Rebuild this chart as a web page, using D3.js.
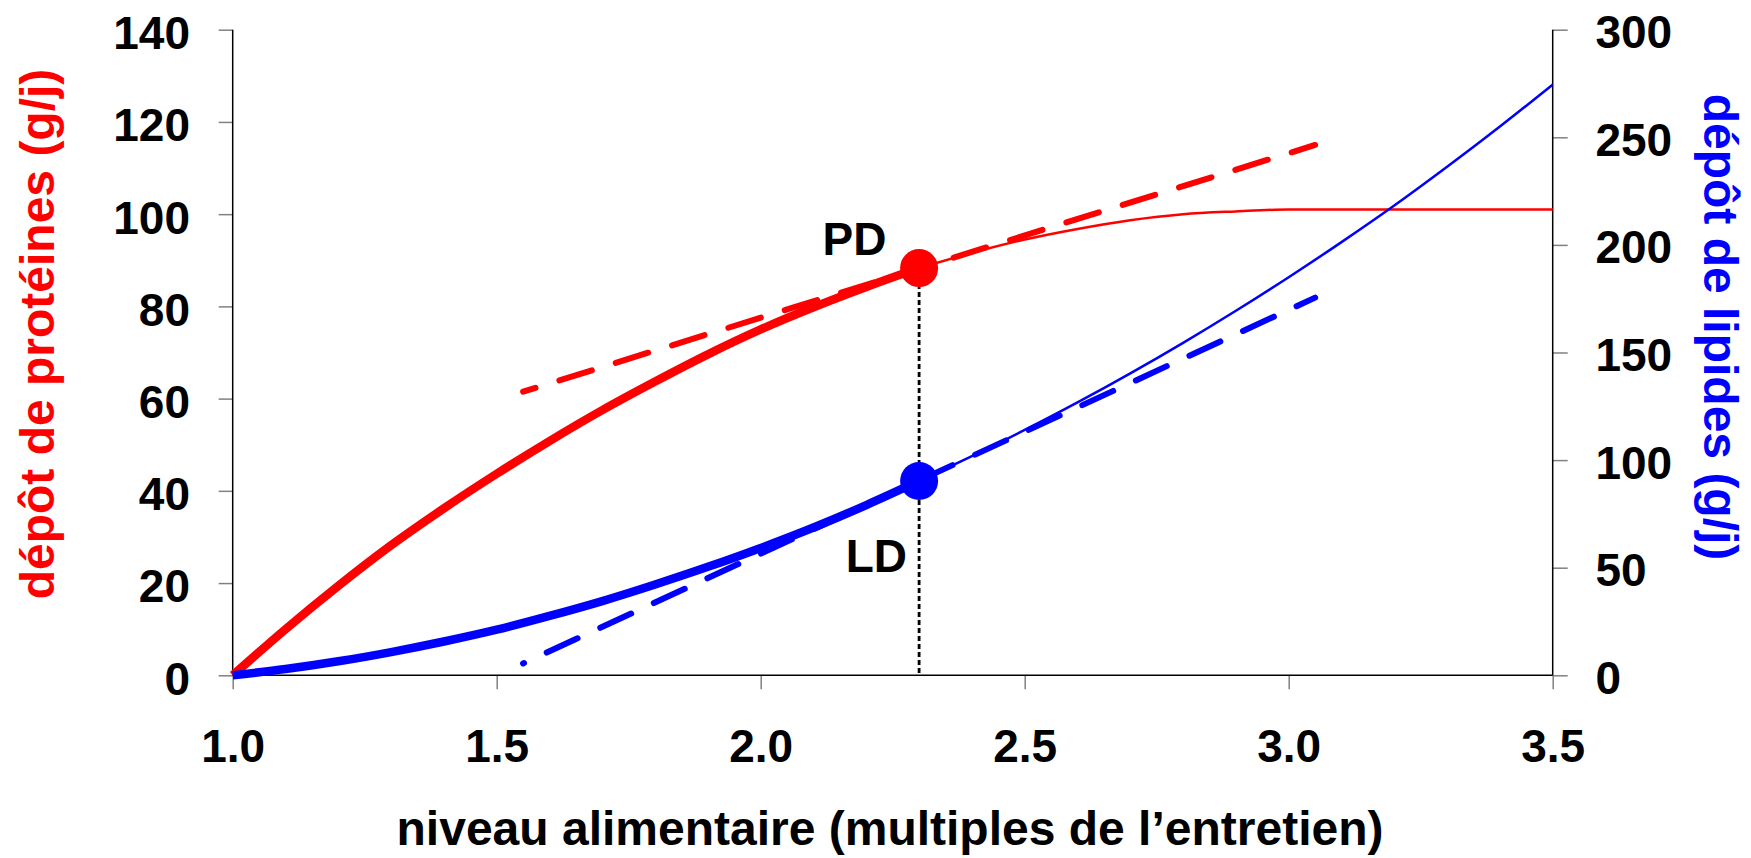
<!DOCTYPE html>
<html>
<head>
<meta charset="utf-8">
<script src="https://cdn.jsdelivr.net/npm/d3@7"></script>
<style>
  html, body { margin: 0; padding: 0; background: #fff; }
  svg { display: block; }
  text { font-family: "Liberation Sans", Arial, sans-serif; font-weight: bold; }
</style>
</head>
<body>
<svg id="chart" width="1751" height="858"></svg>
<script>
// ---------- data ----------
const xTicks = [1.0, 1.5, 2.0, 2.5, 3.0, 3.5];
const leftTicks = [0, 20, 40, 60, 80, 100, 120, 140];
const rightTicks = [0, 50, 100, 150, 200, 250, 300];

// feeding level (multiples of maintenance), observed segment (thick)
const levelsThick = [1.0, 1.1, 1.2, 1.3, 1.4, 1.5, 1.6, 1.7, 1.8, 1.9, 2.0, 2.1, 2.2, 2.3];
const proteinThick = [0, 10, 19.4, 28.2, 36.2, 43.7, 50.8, 57.5, 63.7, 69.6, 75, 79.8, 84.2, 88.3];
const lipidThick   = [0, 2.9, 6.5, 10.8, 15.7, 21.2, 27.6, 34.5, 42.2, 50.4, 59.2, 68.7, 79.1, 90.3];

// extrapolated segment (thin)
const levelsThin = [2.3, 2.4, 2.5, 2.6, 2.7, 2.8, 2.9, 3.0, 3.1, 3.2, 3.3, 3.4, 3.5];
const proteinThin = [88.3, 91.6, 94.5, 96.8, 98.7, 100, 100.6, 101, 101, 101, 101, 101, 101];
const lipidThin   = [90.3, 101.8, 114, 126.8, 140.3, 154.5, 169.4, 185, 201.3, 218.3, 236.3, 255, 274.5];

// tangent lines at the operating point
const tangentLevels = [1.55, 3.05];
const proteinTangent = [61.5, 115.0];
const lipidTangent = [5.5, 175.5];

// operating point
const pointLevel = 2.3;
const pdValue = 88.3;
const ldValue = 90.3;

const xTitle = "niveau alimentaire (multiples de l\u2019entretien)";
const leftTitle = "dépôt de protéines (g/j)";
const rightTitle = "dépôt de lipides (g/j)";

// ---------- layout ----------
const RED = "#FF0000", BLUE = "#0000FF";
const plotLeft = 232.7, plotRight = 1552.7, plotTop = 29.7, plotBottom = 675.3;

const svg = d3.select("#chart");
const x = d3.scaleLinear().domain([1, 3.5]).range([plotLeft, plotRight]);
const yL = d3.scaleLinear().domain([0, 140]).range([plotBottom, plotTop]);
const yR = d3.scaleLinear().domain([0, 300]).range([plotBottom, plotTop]);

// ---------- axes ----------
const tickFont = 46;

const gL = svg.append("g").attr("transform", `translate(${plotLeft},0)`)
  .call(d3.axisLeft(yL).tickValues(leftTicks).tickSizeInner(14).tickSizeOuter(0).tickPadding(28.7).tickFormat(d3.format("d")));
gL.select(".domain").remove();
gL.selectAll(".tick line").attr("stroke", "#808080").attr("stroke-width", 1.5);
gL.selectAll(".tick text").attr("font-size", tickFont).attr("fill", "#000").attr("dy", "0.41em");

const gR = svg.append("g").attr("transform", `translate(${plotRight},0)`)
  .call(d3.axisRight(yR).tickValues(rightTicks).tickSizeInner(15).tickSizeOuter(0).tickPadding(27.7).tickFormat(d3.format("d")));
gR.select(".domain").remove();
gR.selectAll(".tick line").attr("stroke", "#808080").attr("stroke-width", 1.5);
gR.selectAll(".tick text").attr("font-size", tickFont).attr("fill", "#000").attr("dy", "0.39em");

const gB = svg.append("g").attr("transform", `translate(0,${plotBottom})`)
  .call(d3.axisBottom(x).tickValues(xTicks).tickSizeInner(14).tickSizeOuter(0).tickPadding(40).tickFormat(d3.format(".1f")));
gB.select(".domain").remove();
gB.selectAll(".tick line").attr("stroke", "#808080").attr("stroke-width", 1.5);
gB.selectAll(".tick text").attr("font-size", tickFont).attr("fill", "#000").attr("dy", "0.71em");

// axis lines
svg.append("line").attr("x1", plotLeft).attr("x2", plotLeft).attr("y1", plotTop).attr("y2", plotBottom)
  .attr("stroke", "#000").attr("stroke-width", 1.5);
svg.append("line").attr("x1", plotRight).attr("x2", plotRight).attr("y1", plotTop).attr("y2", plotBottom)
  .attr("stroke", "#000").attr("stroke-width", 1.5);
svg.append("line").attr("x1", plotLeft).attr("x2", plotRight).attr("y1", plotBottom).attr("y2", plotBottom)
  .attr("stroke", "#000").attr("stroke-width", 1.5);

// ---------- axis titles ----------
svg.append("text")
  .attr("transform", "translate(42,334) rotate(-90)")
  .attr("text-anchor", "middle").attr("dy", "0.26em")
  .attr("font-size", 48).attr("fill", RED).text(leftTitle);

svg.append("text")
  .attr("transform", "translate(1716,327) rotate(90)")
  .attr("text-anchor", "middle").attr("dy", "0.26em")
  .attr("font-size", 48).attr("fill", BLUE).text(rightTitle);

svg.append("text")
  .attr("x", 890).attr("y", 845)
  .attr("text-anchor", "middle")
  .attr("font-size", 48).attr("fill", "#000").text(xTitle);

// ---------- vertical dotted line ----------
svg.append("line")
  .attr("x1", x(pointLevel)).attr("x2", x(pointLevel))
  .attr("y1", yL(pdValue)).attr("y2", plotBottom)
  .attr("stroke", "#000").attr("stroke-width", 2.8).attr("stroke-dasharray", "5,3");

// ---------- curves ----------
const lineL = d3.line().x(d => x(d[0])).y(d => yL(d[1])).curve(d3.curveMonotoneX);
const lineR = d3.line().x(d => x(d[0])).y(d => yR(d[1])).curve(d3.curveMonotoneX);

const zip = (a, b) => a.map((v, i) => [v, b[i]]);

// thin extrapolations
svg.append("path").attr("d", lineL(zip(levelsThin, proteinThin)))
  .attr("fill", "none").attr("stroke", RED).attr("stroke-width", 2.5);
svg.append("path").attr("d", lineR(zip(levelsThin, lipidThin)))
  .attr("fill", "none").attr("stroke", BLUE).attr("stroke-width", 2.5);

// thick observed segments
svg.append("path").attr("d", lineL(zip(levelsThick, proteinThick)))
  .attr("fill", "none").attr("stroke", RED).attr("stroke-width", 8.5).attr("stroke-linejoin", "round");
svg.append("path").attr("d", lineR(zip(levelsThick, lipidThick)))
  .attr("fill", "none").attr("stroke", BLUE).attr("stroke-width", 8.5).attr("stroke-linejoin", "round");

// tangents (dashed)
svg.append("path").attr("d", lineL(zip(tangentLevels, proteinTangent)))
  .attr("fill", "none").attr("stroke", RED).attr("stroke-width", 6)
  .attr("stroke-linecap", "round").attr("stroke-dasharray", "34,25").attr("stroke-dashoffset", 21);
svg.append("path").attr("d", lineR(zip(tangentLevels, lipidTangent)))
  .attr("fill", "none").attr("stroke", BLUE).attr("stroke-width", 6)
  .attr("stroke-linecap", "round").attr("stroke-dasharray", "34,25").attr("stroke-dashoffset", 33);

// ---------- points ----------
svg.append("circle").attr("cx", x(pointLevel)).attr("cy", yL(pdValue)).attr("r", 19).attr("fill", RED);
svg.append("circle").attr("cx", x(pointLevel)).attr("cy", yR(ldValue)).attr("r", 19).attr("fill", BLUE);

svg.append("text")
  .attr("x", x(pointLevel) - 32.6).attr("y", yL(pdValue) - 13.3)
  .attr("text-anchor", "end").attr("font-size", 46).attr("fill", "#000").text("PD");
svg.append("text")
  .attr("x", x(pointLevel) - 12).attr("y", yR(ldValue) + 90.7)
  .attr("text-anchor", "end").attr("font-size", 46).attr("fill", "#000").text("LD");
</script>
</body>
</html>
